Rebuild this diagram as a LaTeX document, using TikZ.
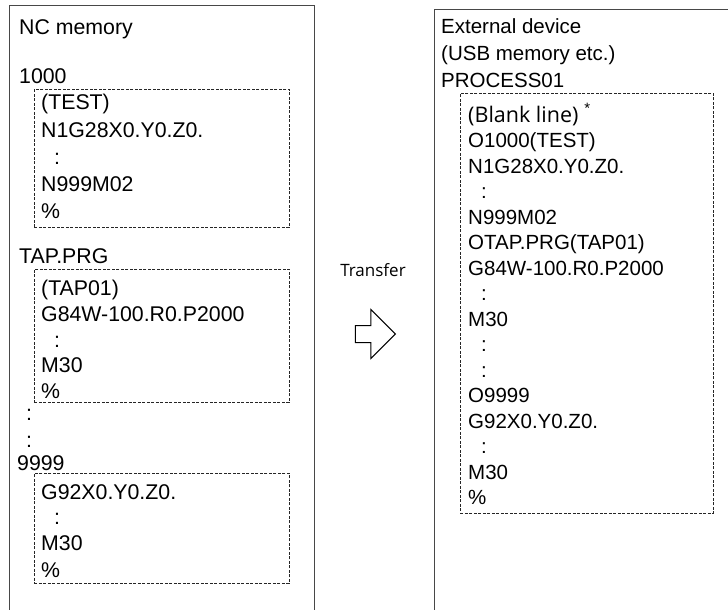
\documentclass[tikz,border=0pt]{standalone}
\usepackage{fontspec}
\setmainfont{Liberation Sans}
\newfontfamily\notefont{Open Sans}
\usetikzlibrary{shapes.arrows}
\newcommand{\cont}{\hspace*{13pt}:}
\tikzset{
  memframe/.style = {rectangle, draw=black!72, line width=1.4pt, anchor=north west, inner sep=0pt},
  prgbox/.style   = {rectangle, draw=black!85, line width=0.9pt, dash pattern=on 3pt off 1.5pt, anchor=north west, inner sep=0pt},
  code/.style     = {anchor=base west, inner sep=0pt, font=\fontsize{20.5}{24}\selectfont},
  codeL/.style    = {code, font=\fontsize{21.3}{24}\selectfont},
  note/.style     = {inner sep=0pt, font=\notefont\fontsize{17}{20}\selectfont},
  xfer/.style     = {single arrow, draw=black, line width=1pt, minimum height=40pt, minimum width=48pt,
                     inner sep=8pt, single arrow head extend=16pt, anchor=tip},
}

\begin{document}
\begin{tikzpicture}[x=1pt, y=-1pt]
    \useasboundingbox (0,0) rectangle (728,610);

    % ── NC memory side ─────────────────────────────────────────
    \node[memframe, minimum width=305pt, minimum height=640pt] (ncmem) at (9,5) {};
    \node[codeL] (ncttl) at (19,35) {NC memory};

    \node[codeL] (nA) at (19,84) {1000};
    \node[prgbox, minimum width=255pt, minimum height=138pt] (prgA) at (34,89) {};
    \node[codeL] (a1) at (41,110) {(TEST)};
    \node[codeL] (a2) at (41,137) {N1G28X0.Y0.Z0.};
    \node[codeL] (a3) at (41,164) {\cont};
    \node[codeL] (a4) at (41,191) {N999M02};
    \node[codeL] (a5) at (41,218) {\%};

    \node[codeL] (nB) at (19,263) {TAP.PRG};
    \node[prgbox, minimum width=255pt, minimum height=133pt] (prgB) at (34,269) {};
    \node[codeL] (b1) at (41,295) {(TAP01)};
    \node[codeL] (b2) at (41,321) {G84W-100.R0.P2000};
    \node[codeL] (b3) at (41,347) {\cont};
    \node[codeL] (b4) at (41,372) {M30};
    \node[codeL] (b5) at (41,398) {\%};

    \node[codeL] (dots1) at (26,420) {:};
    \node[codeL] (dots2) at (26,447) {:};

    \node[codeL] (nC) at (17,470) {9999};
    \node[prgbox, minimum width=255pt, minimum height=110pt] (prgC) at (34,473) {};
    \node[codeL] (c1) at (41,499) {G92X0.Y0.Z0.};
    \node[codeL] (c2) at (41,524) {\cont};
    \node[codeL] (c3) at (41,550) {M30};
    \node[codeL] (c4) at (41,577) {\%};

    % ── Transfer ───────────────────────────────────────────────
    \node[note] (trlabel) at (373,270) {Transfer};
    \node[xfer] (trarrow) at (396,334) {};

    % ── External device side ───────────────────────────────────
    \node[memframe, minimum width=300pt, minimum height=640pt] (extdev) at (434,9) {};
    \node[code] (extttl) at (441,34) {External device};
    \node[code] (extsub) at (441,60) {(USB memory etc.)};
    \node[code] (fname) at (441,87) {PROCESS01};

    \node[prgbox, minimum width=253pt, minimum height=420pt] (prgall) at (460,93) {};
    \node[code] (e1)  at (468,122)   {{\notefont\fontsize{21.5}{24}\selectfont (Blank line)}\hspace{6pt}\raisebox{9pt}{\fontsize{15}{15}\selectfont *}};
    \node[code] (e2)  at (468,147.5) {O1000(TEST)};
    \node[code] (e3)  at (468,173)   {N1G28X0.Y0.Z0.};
    \node[code] (e4)  at (468,198.5) {\cont};
    \node[code] (e5)  at (468,224)   {N999M02};
    \node[code] (e6)  at (468,249.5) {OTAP.PRG(TAP01)};
    \node[code] (e7)  at (468,275)   {G84W-100.R0.P2000};
    \node[code] (e8)  at (468,300.5) {\cont};
    \node[code] (e9)  at (468,326)   {M30};
    \node[code] (e10) at (468,351.5) {\cont};
    \node[code] (e11) at (468,377)   {\cont};
    \node[code] (e12) at (468,402.5) {O9999};
    \node[code] (e13) at (468,428)   {G92X0.Y0.Z0.};
    \node[code] (e14) at (468,453.5) {\cont};
    \node[code] (e15) at (468,479)   {M30};
    \node[code] (e16) at (468,504.5) {\%};
\end{tikzpicture}
\end{document}
